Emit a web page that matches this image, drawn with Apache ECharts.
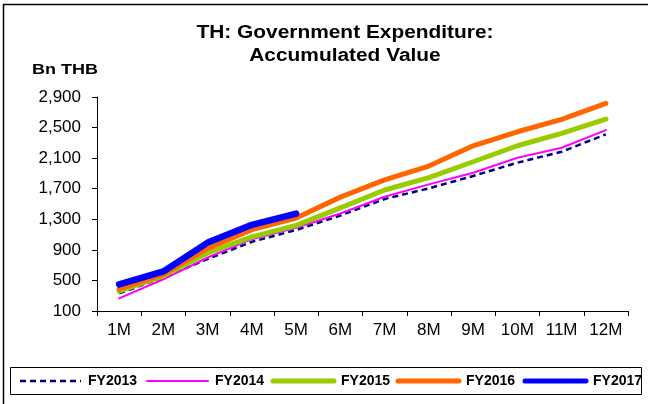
<!DOCTYPE html>
<html>
<head>
<meta charset="utf-8">
<script src="https://cdn.jsdelivr.net/npm/echarts@6/dist/echarts.min.js"></script>
<style>
  html, body { margin: 0; padding: 0; background: #fff; }
  #chart { width: 648px; height: 404px; }
</style>
</head>
<body>
<div id="chart"></div>
<script>
// Accumulated government expenditure, Bn THB, by fiscal-year month
const months = ['1M', '2M', '3M', '4M', '5M', '6M', '7M', '8M', '9M', '10M', '11M', '12M'];
const fy2013 = [330, 540, 780, 1005, 1160, 1350, 1565, 1705, 1866, 2040, 2184, 2411];
const fy2014 = [266, 515, 800, 1040, 1190, 1375, 1595, 1757, 1909, 2105, 2236, 2467];
const fy2015 = [360, 560, 860, 1070, 1220, 1450, 1683, 1845, 2053, 2262, 2424, 2611];
const fy2016 = [385, 580, 920, 1165, 1316, 1590, 1815, 1997, 2262, 2445, 2607, 2817];
const fy2017 = [449, 617, 995, 1228, 1375];
const yTicks = { min: 100, max: 2900, step: 400 };

const font = 'Arial, "Liberation Sans", sans-serif';
const chart = echarts.init(document.getElementById('chart'), null, { renderer: 'canvas' });

// Series styles, shared by the lines and the legend keys
const styles = [
  { name: 'FY2013', data: fy2013, color: '#000080', width: 2.5, type: [6, 4] },
  { name: 'FY2014', data: fy2014, color: '#FF00FF', width: 2 },
  { name: 'FY2015', data: fy2015, color: '#99CC00', width: 5 },
  { name: 'FY2016', data: fy2016, color: '#FF6600', width: 5 },
  { name: 'FY2017', data: fy2017, color: '#0000FF', width: 6.5 }
];

// Legend keys laid out in a boxed row below the plot
const legendKeyX = [20, 147, 273, 398, 525];
const legendY = 381;
const legendGraphics = [];
styles.forEach((s, i) => {
  const x0 = legendKeyX[i];
  legendGraphics.push({
    type: 'line', silent: true, z: 10,
    shape: { x1: x0, y1: legendY, x2: x0 + 61, y2: legendY },
    style: { stroke: s.color, lineWidth: Math.min(s.width, 5), lineDash: Array.isArray(s.type) ? s.type : null, lineCap: Array.isArray(s.type) ? 'butt' : 'round' }
  });
  legendGraphics.push({
    type: 'text', silent: true, z: 10, x: x0 + 68, y: legendY,
    style: { text: s.name, font: 'bold 14px ' + font, fill: '#000', textVerticalAlign: 'middle', verticalAlign: 'middle' }
  });
});

chart.setOption({
  backgroundColor: '#fff',
  animation: false,
  graphic: [
    { type: 'rect', shape: { x: 3.5, y: 4.5, width: 700, height: 500 },
      style: { fill: null, stroke: '#000', lineWidth: 1.5 }, silent: true },
    { type: 'text', x: 345, y: 33, scaleX: 1.16, silent: true,
      style: { text: 'TH: Government Expenditure:', font: 'bold 18px ' + font, fill: '#000',
               textAlign: 'center', align: 'center', textVerticalAlign: 'middle', verticalAlign: 'middle' } },
    { type: 'text', x: 345, y: 56, scaleX: 1.16, silent: true,
      style: { text: 'Accumulated Value', font: 'bold 18px ' + font, fill: '#000',
               textAlign: 'center', align: 'center', textVerticalAlign: 'middle', verticalAlign: 'middle' } },
    { type: 'text', x: 32, y: 70, scaleX: 1.2, silent: true,
      style: { text: 'Bn THB', font: 'bold 15px ' + font, fill: '#000',
               textVerticalAlign: 'middle', verticalAlign: 'middle' } },
    { type: 'rect', shape: { x: 10.5, y: 367.5, width: 631, height: 27 },
      style: { fill: '#fff', stroke: '#000', lineWidth: 1 }, silent: true, z: 5 }
  ].concat(legendGraphics),
  grid: { left: 97, right: 20, top: 97, bottom: 93 },
  xAxis: {
    type: 'category', data: months, boundaryGap: true,
    axisLine: { lineStyle: { color: '#000', width: 1 } },
    axisTick: { show: true, length: 5, lineStyle: { color: '#000' } },
    axisLabel: { color: '#000', fontFamily: font, fontSize: 17, margin: 11 },
    splitLine: { show: false }
  },
  yAxis: {
    type: 'value', min: yTicks.min, max: yTicks.max, interval: yTicks.step,
    axisLine: { show: true, lineStyle: { color: '#000', width: 1 } },
    axisTick: { show: true, length: 5, lineStyle: { color: '#000' } },
    axisLabel: {
      color: '#000', fontFamily: font, fontSize: 17, margin: 16, align: 'right',
      formatter: v => v.toLocaleString('en-US')
    },
    splitLine: { show: false }
  },
  series: styles.map(s => ({
    name: s.name, type: 'line', data: s.data,
    symbol: 'none',
    lineStyle: { color: s.color, width: s.width, type: s.type || 'solid', cap: Array.isArray(s.type) ? 'butt' : 'round', join: 'round' },
    itemStyle: { color: s.color },
    emphasis: { disabled: true }
  }))
});
</script>
</body>
</html>
